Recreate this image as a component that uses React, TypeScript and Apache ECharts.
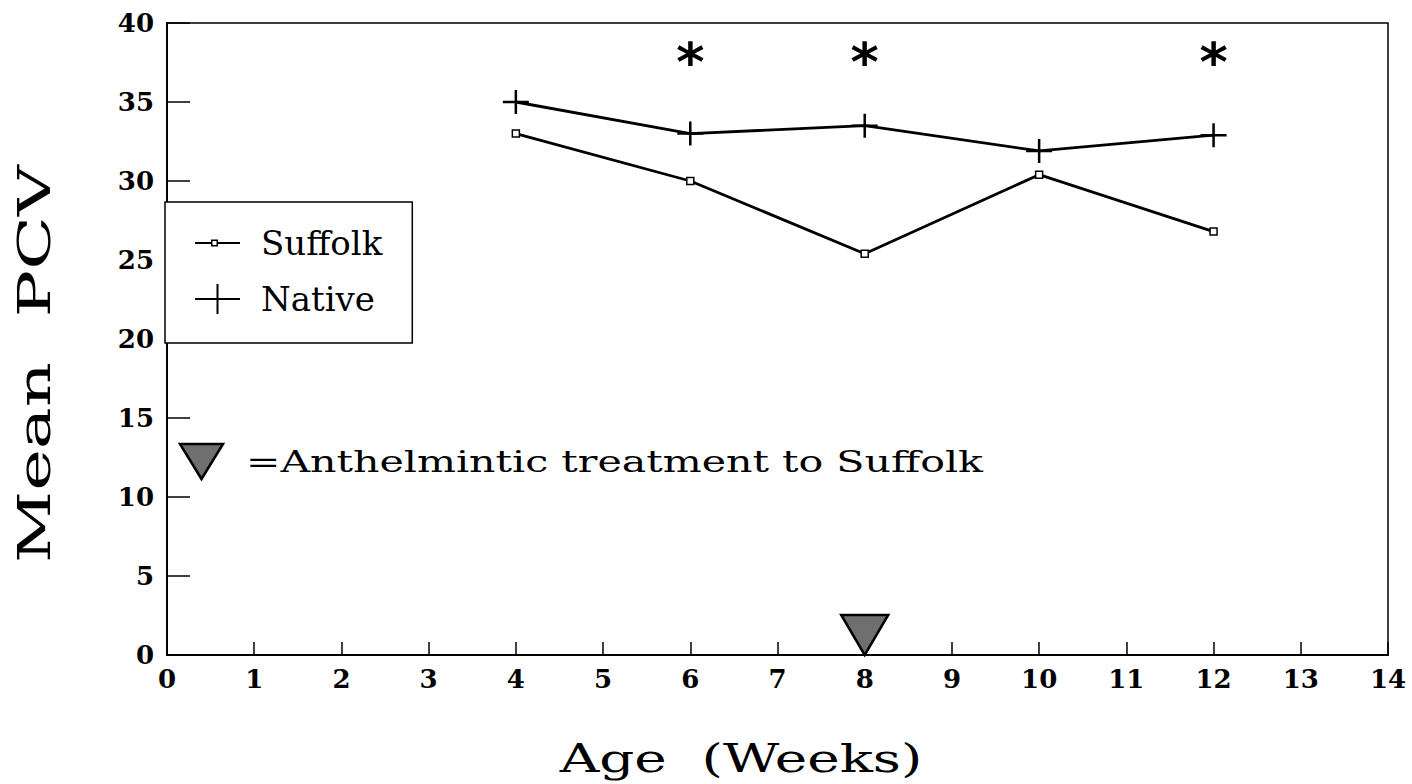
import React, { useEffect, useRef } from "react";
import * as echarts from "echarts";

// ---- data ----
const weeks = [4, 6, 8, 10, 12];
const suffolkPCV = [33.0, 30.0, 25.4, 30.4, 26.8];
const nativePCV = [35.0, 33.0, 33.5, 31.9, 32.9];
const significantWeeks = [6, 8, 12];
const significanceLevel = 38;
const treatmentWeeks = [8];
const seriesNames = ["Suffolk", "Native"];

const xMin = 0;
const xMax = 14;
const xStep = 1;
const yMin = 0;
const yMax = 40;
const yStep = 5;

const xTitle = "Age  (Weeks)";
const yTitle = "Mean  PCV";
const noteText = "=Anthelmintic treatment to Suffolk";

const FONT = "'DejaVu Serif', serif";

const plusSymbol = "path://M0,10.75H26V13.25H0Z M11.75,0H14.25V24H11.75Z";
const invTriangle = "path://M0,0L47,0L23.5,40Z";
const legendPlus = "path://M0,14H45V16H0Z M21.5,0H23.5V30H21.5Z";
const legendSquare =
  "path://M0,14H16V16H0Z M23,14H45V16H23Z M16,11.5H23V18.5H16Z M17.5,13V17H21.5V13Z";

export default function App() {
  const ref = useRef<HTMLDivElement>(null);

  useEffect(() => {
    if (!ref.current) return;
    const chart = echarts.init(ref.current, undefined, { renderer: "svg" });

    const option: any = {
      animation: false,
      backgroundColor: "#ffffff",
      grid: {
        left: 167,
        right: 24,
        top: 23,
        bottom: 129,
        show: true,
        borderColor: "#000",
        borderWidth: 1.5,
        backgroundColor: "transparent",
      },
      xAxis: {
        type: "value",
        min: xMin,
        max: xMax,
        interval: xStep,
        axisLine: { show: true, lineStyle: { color: "#000", width: 2 } },
        axisTick: { show: true, inside: true, length: 13, lineStyle: { color: "#000", width: 1.5 } },
        splitLine: { show: false },
        axisLabel: {
          color: "#000",
          fontFamily: FONT,
          fontWeight: "bold",
          fontSize: 26,
          margin: 11,
        },
      },
      yAxis: {
        type: "value",
        min: yMin,
        max: yMax,
        interval: yStep,
        axisLine: { show: true, lineStyle: { color: "#000", width: 2 } },
        axisTick: { show: true, inside: true, length: 23, lineStyle: { color: "#000", width: 1.5 } },
        splitLine: { show: false },
        axisLabel: {
          color: "#000",
          fontFamily: FONT,
          fontWeight: "bold",
          fontSize: 26,
          margin: 13,
        },
      },
      legend: {
        orient: "vertical",
        left: 165,
        top: 202,
        selectedMode: false,
        backgroundColor: "#fff",
        borderColor: "#000",
        borderWidth: 1.5,
        borderRadius: 0,
        padding: [24, 30, 27, 30],
        itemWidth: 45,
        itemHeight: 30,
        itemGap: 22,
        textStyle: {
          color: "#000",
          fontFamily: FONT,
          fontSize: 34,
          padding: [0, 0, 0, 16],
        },
        data: [
          { name: seriesNames[0], icon: legendSquare, itemStyle: { color: "#000", borderWidth: 0 } },
          { name: seriesNames[1], icon: legendPlus, itemStyle: { color: "#000", borderWidth: 0 } },
        ],
      },
      series: [
        {
          name: seriesNames[0],
          type: "line",
          data: weeks.map((w, i) => [w, suffolkPCV[i]]),
          symbol: "rect",
          symbolSize: 7,
          itemStyle: { color: "#fff", borderColor: "#000", borderWidth: 1.5 },
          lineStyle: { color: "#000", width: 2.8 },
          z: 3,
        },
        {
          name: seriesNames[1],
          type: "line",
          data: weeks.map((w, i) => [w, nativePCV[i]]),
          symbol: plusSymbol,
          symbolSize: [26, 24],
          itemStyle: { color: "#000" },
          lineStyle: { color: "#000", width: 2.8 },
          z: 3,
        },
        {
          name: "significance",
          type: "scatter",
          data: significantWeeks.map((w) => [w, significanceLevel]),
          symbolSize: 0,
          itemStyle: { color: "#000", opacity: 1 },
          label: {
            show: true,
            position: "inside",
            formatter: "*",
            color: "#000",
            opacity: 1,
            fontFamily: "'DejaVu Sans', sans-serif",
            fontWeight: "bold",
            fontSize: 54,
            offset: [0, 8],
          },
          z: 4,
        },
        {
          name: "treatment",
          type: "scatter",
          data: treatmentWeeks.map((w) => [w, 0]),
          symbol: invTriangle,
          symbolSize: [47, 40],
          symbolOffset: [0, -20],
          itemStyle: { color: "#6f6f6f", borderColor: "#000", borderWidth: 2.5, opacity: 1 },
          z: 4,
        },
      ],
      graphic: [
        {
          type: "polygon",
          shape: { points: [[180, 444], [223, 444], [201.5, 479]] },
          style: { fill: "#6f6f6f", stroke: "#000", lineWidth: 2.5 },
        },
        {
          type: "text",
          x: 246,
          y: 462,
          scaleX: 1.37,
          style: {
            text: noteText,
            fontFamily: FONT,
            fontSize: 30,
            fill: "#000",
            align: "left",
            verticalAlign: "middle",
          },
        },
        {
          type: "text",
          x: 741,
          y: 758,
          scaleX: 1.37,
          style: {
            text: xTitle,
            fontFamily: FONT,
            fontSize: 40,
            fill: "#000",
            align: "center",
            verticalAlign: "middle",
          },
        },
        {
          type: "text",
          x: 35,
          y: 364,
          rotation: Math.PI / 2,
          scaleX: 1.6,
          style: {
            text: yTitle,
            fontFamily: FONT,
            fontSize: 44,
            fill: "#000",
            align: "center",
            verticalAlign: "middle",
          },
        },
      ],
    };

    chart.setOption(option);
    return () => {
      chart.dispose();
    };
  }, []);

  return (
    <div
      ref={ref}
      style={{ position: "fixed", left: 0, top: 0, width: 1412, height: 784, background: "#fff" }}
    />
  );
}
